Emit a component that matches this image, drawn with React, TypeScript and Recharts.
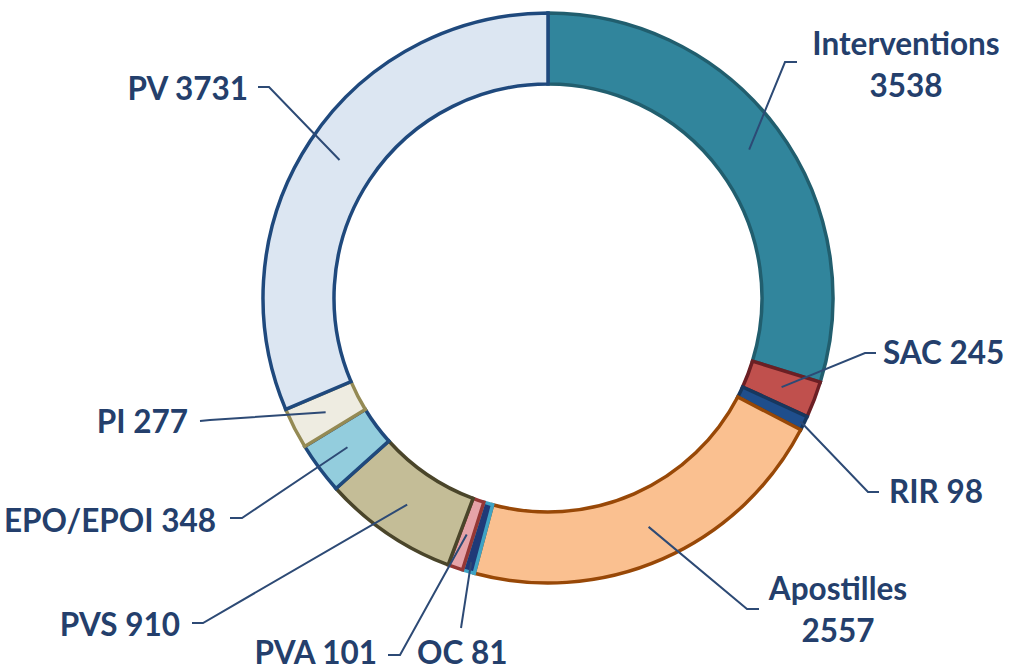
import React from 'react';
import { PieChart, Pie, Cell } from 'recharts';

const CATEGORIES = [
  'Interventions',
  'SAC',
  'RIR',
  'Apostilles',
  'OC',
  'PVA',
  'PVS',
  'EPO/EPOI',
  'PI',
  'PV',
];
const VALUES = [3538, 245, 98, 2557, 81, 101, 910, 348, 277, 3731];

const FILLS = [
  '#31859c',
  '#c0504d',
  '#1f4e8c',
  '#fac090',
  '#1f3a78',
  '#e6a3a8',
  '#c4bd97',
  '#93cddd',
  '#eeece1',
  '#dce6f2',
];
const STROKES = [
  '#215e6e',
  '#6b1f24',
  '#17375e',
  '#984807',
  '#3fa3c4',
  '#953735',
  '#4a452a',
  '#1f497d',
  '#948a54',
  '#1f497d',
];

const TEXT_COLOR = '#243f6c';
const LINE_COLOR = '#2d4a75';
const FONT = 'Lato, "Open Sans", sans-serif';
const FONT_SIZE = 31.5;

// where each label sits: radius of the leader start, elbow, line end, text anchor
type Layout = {
  r: number;
  elbow: [number, number];
  end: [number, number];
  text: [number, number];
  anchor: 'start' | 'middle' | 'end';
  twoLines?: boolean;
};

const LABEL_LAYOUT: Layout[] = [
  { r: 250, elbow: [785, 62], end: [797, 62], text: [906, 44], anchor: 'middle', twoLines: true },
  { r: 250, elbow: [865, 353], end: [876, 353], text: [883, 353], anchor: 'start' },
  { r: 281, elbow: [868, 492], end: [879, 492], text: [889, 492], anchor: 'start' },
  { r: 250, elbow: [747, 609], end: [759, 609], text: [838, 589], anchor: 'middle', twoLines: true },
  { r: 275, elbow: [461, 628], end: [461, 628], text: [417, 653], anchor: 'start' },
  { r: 250, elbow: [400, 655], end: [388, 655], text: [377, 653], anchor: 'end' },
  { r: 250, elbow: [203, 623], end: [192, 623], text: [180, 625], anchor: 'end' },
  { r: 250, elbow: [242, 518], end: [230, 518], text: [216, 521], anchor: 'end' },
  { r: 250, elbow: [210, 420], end: [200, 421], text: [188, 422], anchor: 'end' },
  { r: 250, elbow: [269, 87], end: [258, 87], text: [248, 89], anchor: 'end' },
];

const data = CATEGORIES.map((name, i) => ({ name, value: VALUES[i] }));

const RADIAN = Math.PI / 180;

function renderLabel(props: any) {
  const { cx, cy, midAngle, index } = props;
  const layout = LABEL_LAYOUT[index];
  if (!layout) return null;
  const sx = cx + layout.r * Math.cos(-midAngle * RADIAN);
  const sy = cy + layout.r * Math.sin(-midAngle * RADIAN);
  const name = CATEGORIES[index];
  const value = VALUES[index];
  const baseShift = FONT_SIZE * 0.36;
  return (
    <g key={`label-${index}`}>
      <polyline
        points={`${sx},${sy} ${layout.elbow[0]},${layout.elbow[1]} ${layout.end[0]},${layout.end[1]}`}
        fill="none"
        stroke={LINE_COLOR}
        strokeWidth={2}
      />
      {layout.twoLines ? (
        <text
          x={layout.text[0]}
          y={layout.text[1] + baseShift}
          textAnchor={layout.anchor}
          fill={TEXT_COLOR}
          fontFamily={FONT}
          fontWeight={700}
          fontSize={FONT_SIZE}
        >
          <tspan x={layout.text[0]}>{name}</tspan>
          <tspan x={layout.text[0]} dy={42}>
            {value}
          </tspan>
        </text>
      ) : (
        <text
          x={layout.text[0]}
          y={layout.text[1] + baseShift}
          textAnchor={layout.anchor}
          fill={TEXT_COLOR}
          fontFamily={FONT}
          fontWeight={700}
          fontSize={FONT_SIZE}
        >
          {`${name} ${value}`}
        </text>
      )}
    </g>
  );
}

export default function App() {
  return (
    <div
      style={{
        position: 'absolute',
        left: 0,
        top: 0,
        width: 1011,
        height: 671,
        background: '#ffffff',
      }}
    >
      <PieChart width={1011} height={671} margin={{ top: 0, right: 0, bottom: 0, left: 0 }}>
        <Pie
          data={data}
          dataKey="value"
          nameKey="name"
          cx={548}
          cy={298}
          innerRadius={214}
          outerRadius={285}
          startAngle={90}
          endAngle={-270}
          paddingAngle={0}
          label={renderLabel}
          labelLine={false}
          isAnimationActive={false}
        >
          {data.map((_, i) => (
            <Cell key={`cell-${i}`} fill={FILLS[i]} stroke={STROKES[i]} strokeWidth={3.5} />
          ))}
        </Pie>
      </PieChart>
    </div>
  );
}
